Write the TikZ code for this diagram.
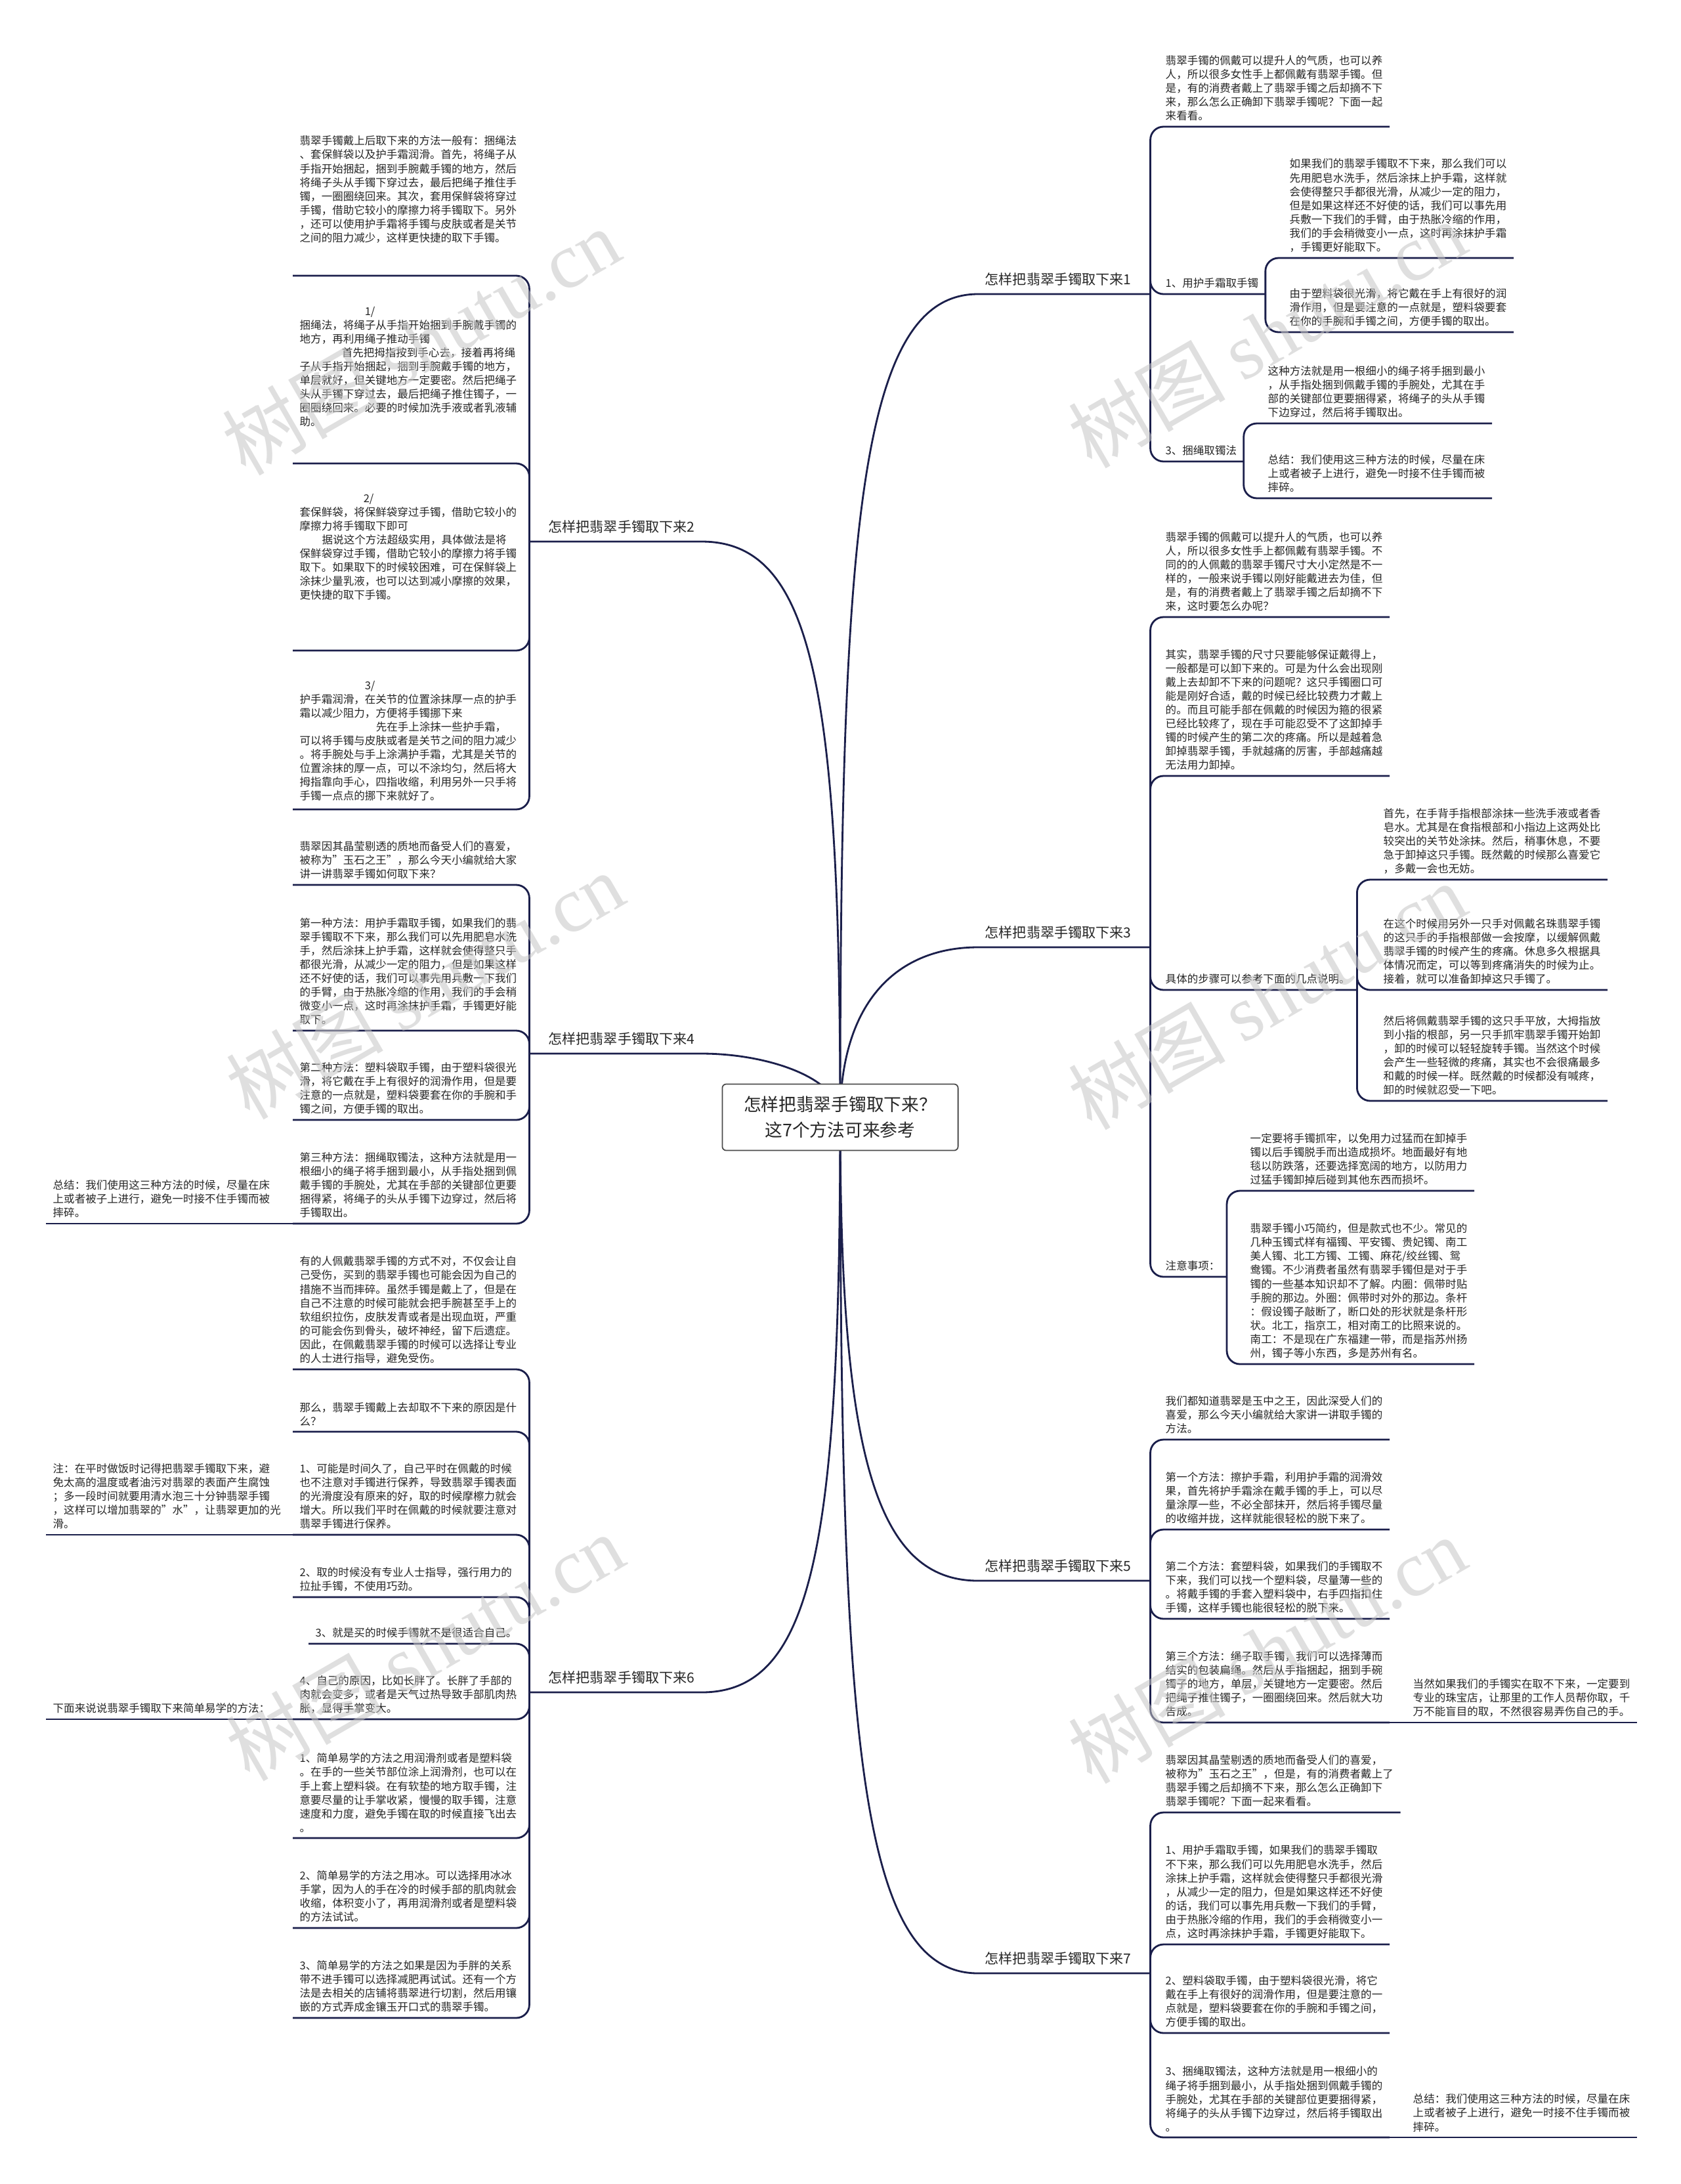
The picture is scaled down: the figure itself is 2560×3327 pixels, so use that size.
\documentclass[tikz,border=0pt]{standalone}
\usepackage{fontspec}
\setmainfont{Noto Sans CJK SC}
\newfontfamily\wmserif{Liberation Serif}
\usetikzlibrary{backgrounds}
\definecolor{linkc}{HTML}{1B1F4B}
\definecolor{textc}{HTML}{262626}
\definecolor{rootc}{HTML}{4A4A4A}
\tikzset{
  txt/.style={anchor=south west, align=left, inner xsep=0.1cm, inner ysep=0.08cm,
    text=textc, font=\fontsize{4.7pt}{6pt}\selectfont},
  branchR/.style={anchor=south west, text width=2.41cm, align=left, inner xsep=0.1cm,
    inner ysep=0.12cm, text=textc, font=\fontsize{6pt}{7pt}\selectfont},
  branchL/.style={branchR, anchor=south east, align=right},
  link/.style={draw=linkc, line width=0.8pt, rounded corners=0.2cm},
  trunk/.style={draw=linkc, line width=0.8pt},
  rootbox/.style={draw=rootc, fill=white, rounded corners=0.06cm, line width=0.5pt,
    minimum width=3.59cm, minimum height=1.01cm, align=center, text=textc,
    font=\fontsize{7.6pt}{11pt}\selectfont},
  wmark/.style={rotate=30, text=gray!45, opacity=0.55, font=\fontsize{34pt}{34pt}\selectfont}
}
\begin{document}
\begin{tikzpicture}[x=0.01cm, y=-0.01cm]
    \useasboundingbox (0,0) rectangle (2560,3327);

    % 中心
    \node[rootbox] (root) at (1280,1702) {怎样把翡翠手镯取下来？\\这7个方法可来参考};

    % 分支
    \node[branchR] (b1) at (1490,448) {怎样把翡翠手镯取下来1};
    \node[branchR] (b3) at (1490,1443) {怎样把翡翠手镯取下来3};
    \node[branchR] (b5) at (1490,2408) {怎样把翡翠手镯取下来5};
    \node[branchR] (b7) at (1490,3006) {怎样把翡翠手镯取下来7};
    \node[branchL] (b2) at (1069,825) {怎样把翡翠手镯取下来2};
    \node[branchL] (b4) at (1069,1605) {怎样把翡翠手镯取下来4};
    \node[branchL] (b6) at (1069,2578) {怎样把翡翠手镯取下来6};

    % 分支1
    \node[txt] (b1a) at (1765,193) {翡翠手镯的佩戴可以提升人的气质，也可以养\\人，所以很多女性手上都佩戴有翡翠手镯。但\\是，有的消费者戴上了翡翠手镯之后却摘不下\\来，那么怎么正确卸下翡翠手镯呢？下面一起\\来看看。};
    \node[txt] (b1b) at (1765,448) {1、用护手霜取手镯};
    \node[txt] (b1b1) at (1954,393) {如果我们的翡翠手镯取不下来，那么我们可以\\先用肥皂水洗手，然后涂抹上护手霜，这样就\\会使得整只手都很光滑，从减少一定的阻力，\\但是如果这样还不好使的话，我们可以事先用\\兵敷一下我们的手臂，由于热胀冷缩的作用，\\我们的手会稍微变小一点，这时再涂抹护手霜\\，手镯更好能取下。};
    \node[txt] (b1b2) at (1954,506) {由于塑料袋很光滑，将它戴在手上有很好的润\\滑作用，但是要注意的一点就是，塑料袋要套\\在你的手腕和手镯之间，方便手镯的取出。};
    \node[txt] (b1c) at (1765,703) {3、捆绳取镯法};
    \node[txt] (b1c1) at (1921,645) {这种方法就是用一根细小的绳子将手捆到最小\\，从手指处捆到佩戴手镯的手腕处，尤其在手\\部的关键部位更要捆得紧，将绳子的头从手镯\\下边穿过，然后将手镯取出。};
    \node[txt] (b1c2) at (1921,759) {总结：我们使用这三种方法的时候，尽量在床\\上或者被子上进行，避免一时接不住手镯而被\\摔碎。};

    % 分支3
    \node[txt] (b3a) at (1765,940) {翡翠手镯的佩戴可以提升人的气质，也可以养\\人，所以很多女性手上都佩戴有翡翠手镯。不\\同的的人佩戴的翡翠手镯尺寸大小定然是不一\\样的，一般来说手镯以刚好能戴进去为佳，但\\是，有的消费者戴上了翡翠手镯之后却摘不下\\来，这时要怎么办呢？};
    \node[txt] (b3b) at (1765,1182) {其实，翡翠手镯的尺寸只要能够保证戴得上，\\一般都是可以卸下来的。可是为什么会出现刚\\戴上去却卸不下来的问题呢？这只手镯圈口可\\能是刚好合适，戴的时候已经比较费力才戴上\\的。而且可能手部在佩戴的时候因为箍的很紧\\已经比较疼了，现在手可能忍受不了这卸掉手\\镯的时候产生的第二次的疼痛。所以是越着急\\卸掉翡翠手镯，手就越痛的厉害，手部越痛越\\无法用力卸掉。};
    \node[txt] (b3c) at (1765,1508) {具体的步骤可以参考下面的几点说明。};
    \node[txt] (b3c1) at (2097,1340) {首先，在手背手指根部涂抹一些洗手液或者香\\皂水。尤其是在食指根部和小指边上这两处比\\较突出的关节处涂抹。然后，稍事休息，不要\\急于卸掉这只手镯。既然戴的时候那么喜爱它\\，多戴一会也无妨。};
    \node[txt] (b3c2) at (2097,1508) {在这个时候用另外一只手对佩戴名珠翡翠手镯\\的这只手的手指根部做一会按摩，以缓解佩戴\\翡翠手镯的时候产生的疼痛。休息多久根据具\\体情况而定，可以等到疼痛消失的时候为止。\\接着，就可以准备卸掉这只手镯了。};
    \node[txt] (b3c3) at (2097,1677) {然后将佩戴翡翠手镯的这只手平放，大拇指放\\到小指的根部，另一只手抓牢翡翠手镯开始卸\\，卸的时候可以轻轻旋转手镯。当然这个时候\\会产生一些轻微的疼痛，其实也不会很痛最多\\和戴的时候一样。既然戴的时候都没有喊疼，\\卸的时候就忍受一下吧。};
    \node[txt] (b3d) at (1765,1945) {注意事项：};
    \node[txt] (b3d1) at (1894,1814) {一定要将手镯抓牢，以免用力过猛而在卸掉手\\镯以后手镯脱手而出造成损坏。地面最好有地\\毯以防跌落，还要选择宽阔的地方，以防用力\\过猛手镯卸掉后碰到其他东西而损坏。};
    \node[txt] (b3d2) at (1894,2078) {翡翠手镯小巧简约，但是款式也不少。常见的\\几种玉镯式样有福镯、平安镯、贵妃镯、南工\\美人镯、北工方镯、工镯、麻花/绞丝镯、鸳\\鸯镯。不少消费者虽然有翡翠手镯但是对于手\\镯的一些基本知识却不了解。内圈：佩带时贴\\手腕的那边。外圈：佩带时对外的那边。条杆\\：假设镯子敲断了，断口处的形状就是条杆形\\状。北工，指京工，相对南工的比照来说的。\\南工：不是现在广东福建一带，而是指苏州扬\\州，镯子等小东西，多是苏州有名。};

    % 分支5
    \node[txt] (b5a) at (1765,2193) {我们都知道翡翠是玉中之王，因此深受人们的\\喜爱，那么今天小编就给大家讲一讲取手镯的\\方法。};
    \node[txt] (b5b) at (1765,2330) {第一个方法：擦护手霜，利用护手霜的润滑效\\果，首先将护手霜涂在戴手镯的手上，可以尽\\量涂厚一些，不必全部抹开，然后将手镯尽量\\的收缩并拢，这样就能很轻松的脱下来了。};
    \node[txt] (b5c) at (1765,2466) {第二个方法：套塑料袋，如果我们的手镯取不\\下来，我们可以找一个塑料袋，尽量薄一些的\\。将戴手镯的手套入塑料袋中，右手四指扣住\\手镯，这样手镯也能很轻松的脱下来。};
    \node[txt] (b5d) at (1765,2624) {第三个方法：绳子取手镯，我们可以选择薄而\\结实的包装扁绳。然后从手指捆起，捆到手碗\\镯子的地方，单层，关键地方一定要密。然后\\把绳子推住镯子，一圈圈绕回来。然后就大功\\告成。};
    \node[txt] (b5d1) at (2142,2624) {当然如果我们的手镯实在取不下来，一定要到\\专业的珠宝店，让那里的工作人员帮你取，千\\万不能盲目的取，不然很容易弄伤自己的手。};

    % 分支7
    \node[txt] (b7a) at (1765,2761) {翡翠因其晶莹剔透的质地而备受人们的喜爱，\\被称为"玉石之王"，但是，有的消费者戴上了\\翡翠手镯之后却摘不下来，那么怎么正确卸下\\翡翠手镯呢？下面一起来看看。};
    \node[txt] (b7b) at (1765,2962) {1、用护手霜取手镯，如果我们的翡翠手镯取\\不下来，那么我们可以先用肥皂水洗手，然后\\涂抹上护手霜，这样就会使得整只手都很光滑\\，从减少一定的阻力，但是如果这样还不好使\\的话，我们可以事先用兵敷一下我们的手臂，\\由于热胀冷缩的作用，我们的手会稍微变小一\\点，这时再涂抹护手霜，手镯更好能取下。};
    \node[txt] (b7c) at (1765,3097) {2、塑料袋取手镯，由于塑料袋很光滑，将它\\戴在手上有很好的润滑作用，但是要注意的一\\点就是，塑料袋要套在你的手腕和手镯之间，\\方便手镯的取出。};
    \node[txt] (b7d) at (1765,3256) {3、捆绳取镯法，这种方法就是用一根细小的\\绳子将手捆到最小，从手指处捆到佩戴手镯的\\手腕处，尤其在手部的关键部位更要捆得紧，\\将绳子的头从手镯下边穿过，然后将手镯取出\\。};
    \node[txt] (b7d1) at (2142,3256) {总结：我们使用这三种方法的时候，尽量在床\\上或者被子上进行，避免一时接不住手镯而被\\摔碎。};

    % 分支2
    \node[txt, inner ysep=0.49cm] (b2a) at (446,420) {翡翠手镯戴上后取下来的方法一般有：捆绳法\\、套保鲜袋以及护手霜润滑。首先，将绳子从\\手指开始捆起，捆到手腕戴手镯的地方，然后\\将绳子头从手镯下穿过去，最后把绳子推住手\\镯，一圈圈绕回来。其次，套用保鲜袋将穿过\\手镯，借助它较小的摩擦力将手镯取下。另外\\，还可以使用护手霜将手镯与皮肤或者是关节\\之间的阻力减少，这样更快捷的取下手镯。};
    \node[txt, inner ysep=0.55cm] (b2b) at (446,706) {\hspace*{0.99cm}1/\\捆绳法，将绳子从手指开始捆到手腕戴手镯的\\地方，再利用绳子推动手镯\\\hspace*{0.64cm}首先把拇指按到手心去，接着再将绳\\子从手指开始捆起，捆到手腕戴手镯的地方，\\单层就好，但关键地方一定要密。然后把绳子\\头从手镯下穿过去，最后把绳子推住镯子，一\\圈圈绕回来。必要的时候加洗手液或者乳液辅\\助。};
    \node[txt, inner ysep=0.76cm] (b2c) at (446,991) {\hspace*{0.97cm}2/\\套保鲜袋，将保鲜袋穿过手镯，借助它较小的\\摩擦力将手镯取下即可\\\hspace*{0.34cm}据说这个方法超级实用，具体做法是将\\保鲜袋穿过手镯，借助它较小的摩擦力将手镯\\取下。如果取下的时候较困难，可在保鲜袋上\\涂抹少量乳液，也可以达到减小摩擦的效果，\\更快捷的取下手镯。};
    \node[txt, inner ysep=0.12cm] (b2d) at (446,1233) {\hspace*{0.99cm}3/\\护手霜润滑，在关节的位置涂抹厚一点的护手\\霜以减少阻力，方便将手镯挪下来\\\hspace*{1.16cm}先在手上涂抹一些护手霜，\\可以将手镯与皮肤或者是关节之间的阻力减少\\。将手腕处与手上涂满护手霜，尤其是关节的\\位置涂抹的厚一点，可以不涂均匀，然后将大\\拇指靠向手心，四指收缩，利用另外一只手将\\手镯一点点的挪下来就好了。};

    % 分支4
    \node[txt] (b4a) at (446,1348) {翡翠因其晶莹剔透的质地而备受人们的喜爱，\\被称为"玉石之王"，那么今天小编就给大家\\讲一讲翡翠手镯如何取下来？};
    \node[txt] (b4b) at (446,1570) {第一种方法：用护手霜取手镯，如果我们的翡\\翠手镯取不下来，那么我们可以先用肥皂水洗\\手，然后涂抹上护手霜，这样就会使得整只手\\都很光滑，从减少一定的阻力，但是如果这样\\还不好使的话，我们可以事先用兵敷一下我们\\的手臂，由于热胀冷缩的作用，我们的手会稍\\微变小一点，这时再涂抹护手霜，手镯更好能\\取下。};
    \node[txt] (b4c) at (446,1706) {第二种方法：塑料袋取手镯，由于塑料袋很光\\滑，将它戴在手上有很好的润滑作用，但是要\\注意的一点就是，塑料袋要套在你的手腕和手\\镯之间，方便手镯的取出。};
    \node[txt] (b4d) at (446,1864) {第三种方法：捆绳取镯法，这种方法就是用一\\根细小的绳子将手捆到最小，从手指处捆到佩\\戴手镯的手腕处，尤其在手部的关键部位更要\\捆得紧，将绳子的头从手镯下边穿过，然后将\\手镯取出。};
    \node[txt] (b4d1) at (70,1864) {总结：我们使用这三种方法的时候，尽量在床\\上或者被子上进行，避免一时接不住手镯而被\\摔碎。};

    % 分支6
    \node[txt] (b6a) at (446,2086) {有的人佩戴翡翠手镯的方式不对，不仅会让自\\己受伤，买到的翡翠手镯也可能会因为自己的\\措施不当而摔碎。虽然手镯是戴上了，但是在\\自己不注意的时候可能就会把手腕甚至手上的\\软组织拉伤，皮肤发青或者是出现血斑，严重\\的可能会伤到骨头，破坏神经，留下后遗症。\\因此，在佩戴翡翠手镯的时候可以选择让专业\\的人士进行指导，避免受伤。};
    \node[txt] (b6b) at (446,2181) {那么，翡翠手镯戴上去却取不下来的原因是什\\么？};
    \node[txt] (b6c) at (446,2338) {1、可能是时间久了，自己平时在佩戴的时候\\也不注意对手镯进行保养，导致翡翠手镯表面\\的光滑度没有原来的好，取的时候摩檫力就会\\增大。所以我们平时在佩戴的时候就要注意对\\翡翠手镯进行保养。};
    \node[txt] (b6c1) at (70,2338) {注：在平时做饭时记得把翡翠手镯取下来，避\\免太高的温度或者油污对翡翠的表面产生腐蚀\\；多一段时间就要用清水泡三十分钟翡翠手镯\\，这样可以增加翡翠的"水"，让翡翠更加的光\\滑。};
    \node[txt] (b6d) at (446,2433) {2、取的时候没有专业人士指导，强行用力的\\拉扯手镯，不使用巧劲。};
    \node[txt] (b6e) at (470,2504) {3、就是买的时候手镯就不是很适合自己。};
    \node[txt] (b6f) at (446,2619) {4、自己的原因，比如长胖了。长胖了手部的\\肉就会变多，或者是天气过热导致手部肌肉热\\胀，显得手掌变大。};
    \node[txt] (b6f1) at (70,2619) {下面来说说翡翠手镯取下来简单易学的方法：};
    \node[txt] (b6g) at (446,2800) {1、简单易学的方法之用润滑剂或者是塑料袋\\。在手的一些关节部位涂上润滑剂，也可以在\\手上套上塑料袋。在有软垫的地方取手镯，注\\意要尽量的让手掌收紧，慢慢的取手镯，注意\\速度和力度，避免手镯在取的时候直接飞出去\\。};
    \node[txt] (b6h) at (446,2937) {2、简单易学的方法之用冰。可以选择用冰冰\\手掌，因为人的手在冷的时候手部的肌肉就会\\收缩，体积变小了，再用润滑剂或者是塑料袋\\的方法试试。};
    \node[txt] (b6i) at (446,3074) {3、简单易学的方法之如果是因为手胖的关系\\带不进手镯可以选择减肥再试试。还有一个方\\法是去相关的店铺将翡翠进行切割，然后用镶\\嵌的方式弄成金镶玉开口式的翡翠手镯。};

    % 主干曲线
    \begin{scope}[on background layer]
    \fill[white] (0,0) rectangle (2560,3327);
    \draw[trunk] (root.center) .. controls +(0,-900) and +(-180,0) .. (b1.south west) -- (b1.south east);
    \draw[trunk] (root.center) .. controls +(0,-180) and +(-120,0) .. (b3.south west) -- (b3.south east);
    \draw[trunk] (root.center) .. controls +(0,500) and +(-160,0) .. (b5.south west) -- (b5.south east);
    \draw[trunk] (root.center) .. controls +(0,950) and +(-180,0) .. (b7.south west) -- (b7.south east);
    \draw[trunk] (root.center) .. controls +(0,-650) and +(170,0) .. (b2.south east) -- (b2.south west);
    \draw[trunk] (root.center) .. controls +(0,-60) and +(100,0) .. (b4.south east) -- (b4.south west);
    \draw[trunk] (root.center) .. controls +(0,650) and +(170,0) .. (b6.south east) -- (b6.south west);
    \end{scope}

    % 右侧连线
    \draw[link] (b1.south east) |- (b1a.south east);
    \draw[link] (b1.south east) |- (b1b.south east);
    \draw[link] (b1.south east) |- (b1c.south east);
    \draw[link] (b1b.south east) |- (b1b1.south east);
    \draw[link] (b1b.south east) |- (b1b2.south east);
    \draw[link] (b1c.south east) |- (b1c1.south east);
    \draw[link] (b1c.south east) |- (b1c2.south east);
    \draw[link] (b3.south east) |- (b3a.south east);
    \draw[link] (b3.south east) |- (b3b.south east);
    \draw[link] (b3.south east) |- (b3c.south east);
    \draw[link] (b3.south east) |- (b3d.south east);
    \draw[link] (b3c.south east) |- (b3c1.south east);
    \draw[link] (b3c.south east) |- (b3c2.south east);
    \draw[link] (b3c.south east) |- (b3c3.south east);
    \draw[link] (b3d.south east) |- (b3d1.south east);
    \draw[link] (b3d.south east) |- (b3d2.south east);
    \draw[link] (b5.south east) |- (b5a.south east);
    \draw[link] (b5.south east) |- (b5b.south east);
    \draw[link] (b5.south east) |- (b5c.south east);
    \draw[link] (b5.south east) |- (b5d.south east);
    \draw[link] (b5d.south east) -- (b5d1.south east);
    \draw[link] (b7.south east) |- (b7a.south east);
    \draw[link] (b7.south east) |- (b7b.south east);
    \draw[link] (b7.south east) |- (b7c.south east);
    \draw[link] (b7.south east) |- (b7d.south east);
    \draw[link] (b7d.south east) -- (b7d1.south east);

    % 左侧连线
    \draw[link] (b2.south west) |- (b2a.south west);
    \draw[link] (b2.south west) |- (b2b.south west);
    \draw[link] (b2.south west) |- (b2c.south west);
    \draw[link] (b2.south west) |- (b2d.south west);
    \draw[link] (b4.south west) |- (b4a.south west);
    \draw[link] (b4.south west) |- (b4b.south west);
    \draw[link] (b4.south west) |- (b4c.south west);
    \draw[link] (b4.south west) |- (b4d.south west);
    \draw[link] (b4d.south west) -- (b4d1.south west);
    \draw[link] (b6.south west) |- (b6a.south west);
    \draw[link] (b6.south west) |- (b6b.south west);
    \draw[link] (b6.south west) |- (b6c.south west);
    \draw[link] (b6.south west) |- (b6d.south west);
    \draw[link] (b6.south west) |- (b6e.south west);
    \draw[link] (b6.south west) |- (b6f.south west);
    \draw[link] (b6.south west) |- (b6g.south west);
    \draw[link] (b6.south west) |- (b6h.south west);
    \draw[link] (b6.south west) |- (b6i.south west);
    \draw[link] (b6c.south west) -- (b6c1.south west);
    \draw[link] (b6f.south west) -- (b6f1.south west);

    % 水印
    \node[wmark] (wm1) at (641,520) {树图 {\wmserif shutu.cn}};
    \node[wmark] (wm2) at (647,1501) {树图 {\wmserif shutu.cn}};
    \node[wmark] (wm3) at (647,2509) {树图 {\wmserif shutu.cn}};
    \node[wmark] (wm4) at (1930,509) {树图 {\wmserif shutu.cn}};
    \node[wmark] (wm5) at (1930,1517) {树图 {\wmserif shutu.cn}};
    \node[wmark] (wm6) at (1930,2513) {树图 {\wmserif shutu.cn}};
\end{tikzpicture}
\end{document}
